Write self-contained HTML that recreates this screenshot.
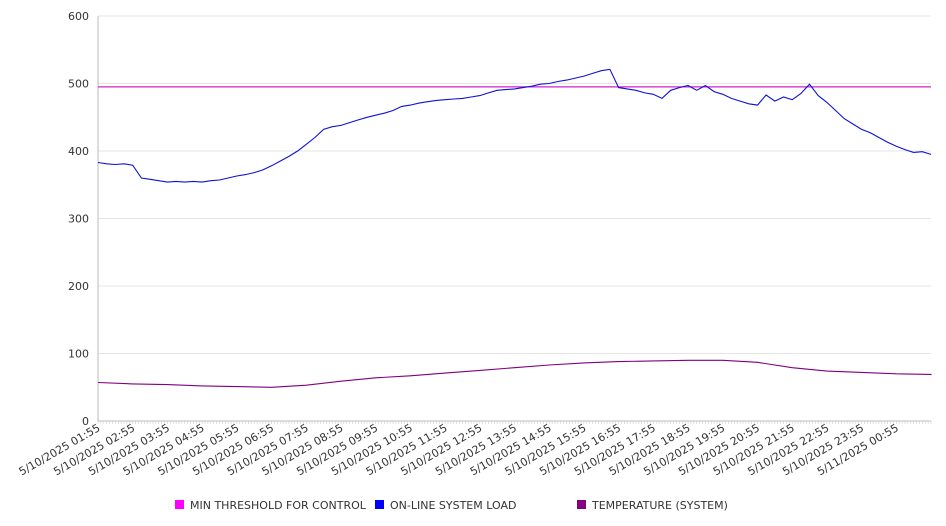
<!DOCTYPE html>
<html><head><meta charset="utf-8"><style>
html,body{margin:0;padding:0;background:#fff;width:946px;height:526px;overflow:hidden}
svg{display:block;font-family:"DejaVu Sans","Liberation Sans",sans-serif}
</style></head><body>
<svg id="chart" width="946" height="526"></svg>
<script>
const xLabels=["5/10/2025 01:55","5/10/2025 02:55","5/10/2025 03:55","5/10/2025 04:55","5/10/2025 05:55","5/10/2025 06:55","5/10/2025 07:55","5/10/2025 08:55","5/10/2025 09:55","5/10/2025 10:55","5/10/2025 11:55","5/10/2025 12:55","5/10/2025 13:55","5/10/2025 14:55","5/10/2025 15:55","5/10/2025 16:55","5/10/2025 17:55","5/10/2025 18:55","5/10/2025 19:55","5/10/2025 20:55","5/10/2025 21:55","5/10/2025 22:55","5/10/2025 23:55","5/11/2025 00:55"];
const yTicks=[0,100,200,300,400,500,600];
const threshold=495;
// load every 15 minutes from 01:55
const load=[383,381,380,381,379,360,358,356,354,355,354,355,354,356,357,360,363,365,368,372,378,385,392,400,410,420,432,436,438,442,446,450,453,456,460,466,468,471,473,475,476,477,478,480,482,486,490,491,492,494,496,499,500,503,505,508,511,515,519,521,494,492,490,486,484,478,490,494,497,490,497,488,484,478,474,470,468,483,474,480,476,485,499,482,472,460,448,440,432,427,420,413,407,402,398,399,395];
// temperature hourly from 01:55
const temp=[57,55,54,52,51,50,53,59,64,67,71,75,79,83,86,88,89,90,90,87,79,74,72,70,69,68];
const NS="http://www.w3.org/2000/svg";
const svg=document.getElementById('chart');
const X0=98,X1=931,Y0=421,Y1=16,HOURS=24;
const xs=h=>X0+(X1-X0)*h/HOURS;
const ys=v=>Y0-(Y0-Y1)*v/600;
function mk(t,a){const e=document.createElementNS(NS,t);for(const k in a)e.setAttribute(k,a[k]);svg.appendChild(e);return e;}
yTicks.forEach(v=>{
  const g=mk('line',{x1:X0,x2:X1,y1:ys(v),y2:ys(v),stroke:v===0?'#bbb':'#e6e6e6','stroke-width':1});
  
  
  const t=mk('text',{x:89,y:ys(v)+4,'text-anchor':'end','font-size':11,fill:'#333'});t.textContent=v;
  
  
});
const ax=mk('line',{x1:X0,x2:X0,y1:Y1,y2:Y0,stroke:'#bbb'});


for(let i=0;i<=HOURS*12;i++){const x=xs(i/12);mk('line',{x1:x,x2:x,y1:Y0,y2:Y0+3,stroke:'#ccc','stroke-width':0.6});}
xLabels.forEach((l,i)=>{
  const x=xs(i)+3,y=Y0+9;
  const t=mk('text',{x:x,y:y,'text-anchor':'end','font-size':11,fill:'#333',transform:`rotate(-30 ${x} ${y})`});
  t.textContent=l;
  
  
});
const th=mk('line',{x1:X0,x2:X1,y1:ys(threshold),y2:ys(threshold),stroke:'#d020d0','stroke-width':1.2});


const lp=mk('path',{d:load.map((v,i)=>(i?'L':'M')+xs(i/4).toFixed(1)+' '+ys(v).toFixed(1)).join(''),fill:'none',stroke:'#1010d8','stroke-width':1.1});


const tp=mk('path',{d:temp.map((v,i)=>(i?'L':'M')+xs(Math.min(i,HOURS)).toFixed(1)+' '+ys(v).toFixed(1)).join(''),fill:'none',stroke:'#800080','stroke-width':1.1});


const legend=[["MIN THRESHOLD FOR CONTROL","#ff00ff",175],["ON-LINE SYSTEM LOAD","#0000ff",375],["TEMPERATURE (SYSTEM)","#800080",577]];
legend.forEach(([n,c,x])=>{
  const r=mk('rect',{x:x,y:500,width:9,height:9,fill:c});
  
  
  const t=mk('text',{x:x+15,y:509,'font-size':11,fill:'#333'});t.textContent=n;
  
  
});
</script>
</body></html>
